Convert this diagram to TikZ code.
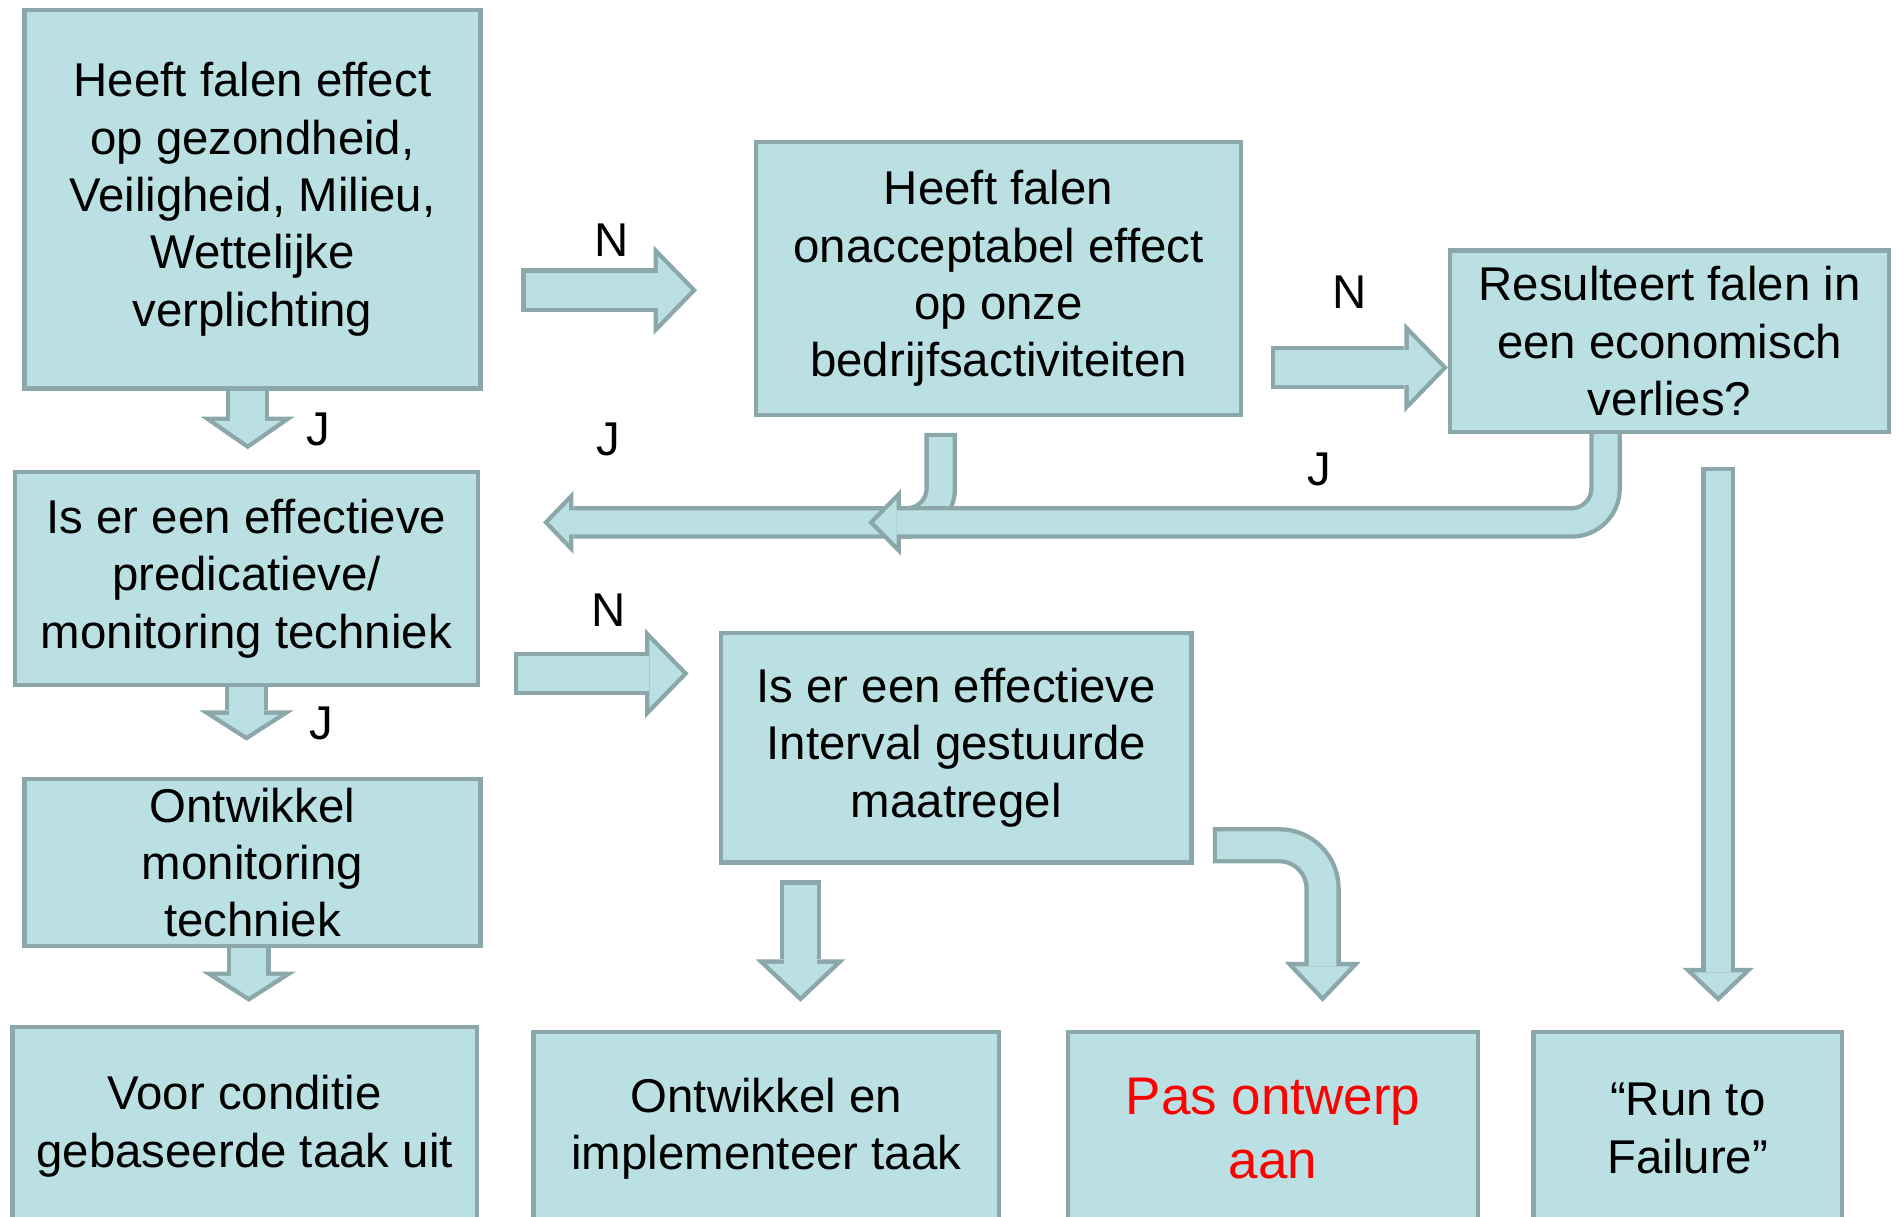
\documentclass[tikz,border=0pt]{standalone}
\usepackage{fontspec}
\setmainfont{Liberation Sans}
\usepackage{xcolor}
\usetikzlibrary{arrows.meta, calc}
\definecolor{flowfill}{HTML}{BBE0E3}
\definecolor{flowline}{HTML}{8BA7AA}
\definecolor{flowred}{HTML}{FF0000}
\newcommand{\arrowborder}{1.8}
\tikzset{
    blk/.code n args={3}{%
        \pgfmathsetmacro\blkS{\arrowborder*sqrt(1+(2*#3/#2)^2)}%
        \pgfmathsetmacro\blkL{#3-\arrowborder-\blkS}%
        \pgfmathsetmacro\blkH{#2*\blkL/#3}%
        \pgfmathsetmacro\blkW{#1-2*\arrowborder}%
        \edef\blkopts{preaction={draw=flowline, line width=#1pt, shorten >=0pt, shorten <=0pt, -{Triangle[width=#2pt, length=#3pt, line width=0pt]}}, draw=flowfill, line width=\blkW pt, shorten >=\blkS pt, -{Triangle[width=\blkH pt, length=\blkL pt, line width=0pt]}}%
        \expandafter\tikzset\expandafter{\blkopts}%
    },
    free tail/.style={shorten <=\arrowborder pt}
}

\begin{document}
\begin{tikzpicture}[
    x=0.5pt, y=-0.5pt,
    box/.style={
        rectangle,
        draw=flowline,
        fill=flowfill,
        line width=1.8pt,
        inner sep=0pt,
        anchor=north west,
        align=center,
        font=\fontsize{19.6}{23.75}\selectfont
    },
    lbl/.style={
        inner sep=0pt,
        font=\fontsize{19.6}{23.75}\selectfont
    }
]
\useasboundingbox (0,0) rectangle (1568,1006);
\clip (0,0) rectangle (1568,1006);

\node[box, minimum width=188.5pt, minimum height=156.5pt] (heeft) at (18.5,6.5) {Heeft falen effect\\op gezondheid,\\Veiligheid, Milieu,\\Wettelijke\\verplichting};
\node[box, minimum width=200.5pt, minimum height=113pt] (onacc) at (623.5,115.5) {Heeft falen\\onacceptabel effect\\op onze\\bedrijfsactiviteiten};
\node[box, minimum width=181.5pt, minimum height=75pt] (econ) at (1197.5,205.5) {Resulteert falen in\\een economisch\\verlies?};
\node[box, minimum width=191.5pt, minimum height=88pt] (predict) at (10.5,388.5) {Is er een effectieve\\predicatieve/\\monitoring techniek};
\node[box, minimum width=194.5pt, minimum height=95pt] (interval) at (594.5,521.5) {Is er een effectieve\\Interval gestuurde\\maatregel};
\node[box, minimum width=188.5pt, minimum height=69pt] (ontwmon) at (18.5,642.5) {Ontwikkel\\monitoring\\techniek};
\node[box, minimum width=192pt, minimum height=82pt] (conditie) at (8.5,847.5) {Voor conditie\\gebaseerde taak uit};
\node[box, minimum width=192.5pt, minimum height=80pt] (implement) at (439.5,851.5) {Ontwikkel en\\implementeer taak};
\node[box, minimum width=169.5pt, minimum height=80pt, text=flowred, font=\fontsize{21.9}{26.5}\selectfont] (ontwerp) at (881.5,851.5) {Pas ontwerp\\aan};
\node[box, minimum width=127.5pt, minimum height=80pt] (rtf) at (1266.5,851.5) {“Run to\\Failure”};

\coordinate (tailAB) at (431,240);
\coordinate (tailBC) at (1051,304);
\coordinate (tailDE) at (425,557);
\coordinate (tailEH) at (662,728);
\coordinate (tailEI) at (1003,699);
\coordinate (tailCJ) at (1421,386);
\coordinate (tailBD) at (778,358);
\coordinate (mergeJ) at (718,432);

\draw[blk={18}{39}{13.5}] ($(heeft.south)+(-4,0)$) -- ($(heeft.south |- predict.north)+(-4,-17)$);
\draw[blk={18}{39}{12.5}] (predict.south) -- ($(predict.south |- ontwmon.north)+(0,-30)$);
\draw[blk={18}{39}{12.5}] ($(ontwmon.south)+(-3,0)$) -- ($(ontwmon.south |- conditie.north)+(-3,-19)$);
\draw[blk={18}{37}{18}, free tail] (tailAB) -- ($(tailAB -| onacc.west)+(-47,0)$);
\draw[blk={18}{37}{18}, free tail] (tailBC) -- (tailBC -| econ.west);
\draw[blk={18}{37}{18}, free tail] (tailDE) -- ($(tailDE -| interval.west)+(-25,0)$);
\draw[blk={17}{37}{17.5}, free tail] (tailEH) -- ($(tailEH |- implement.north)+(0,-23)$);
\draw[blk={15}{31.5}{16.5}, free tail, rounded corners=18pt] (tailEI) -| ($(ontwerp.north)+(41,-23)$);
\draw[blk={14}{29.5}{14}, free tail] (tailCJ) -- ($(tailCJ |- rtf.north)+(0,-23)$);
\draw[blk={13.5}{26}{12.5}, free tail, rounded corners=14pt] (tailBD) |- ($(predict.east |- mergeJ)+(52,0)$);
\draw[blk={13.5}{27.5}{13.5}, rounded corners=14pt] ($(econ.south)+(-53,0)$) |- (mergeJ);

\node[lbl] (lblAB) at (506,199) {N};
\node[lbl] (lblBC) at (1116,242) {N};
\node[lbl] (lblDE) at (503,505) {N};
\node[lbl] (lblAD) at (263,355) {J};
\node[lbl] (lblDF) at (266,598) {J};
\node[lbl] (lblBD) at (503,363) {J};
\node[lbl] (lblCD) at (1091,388) {J};

\end{tikzpicture}
\end{document}
